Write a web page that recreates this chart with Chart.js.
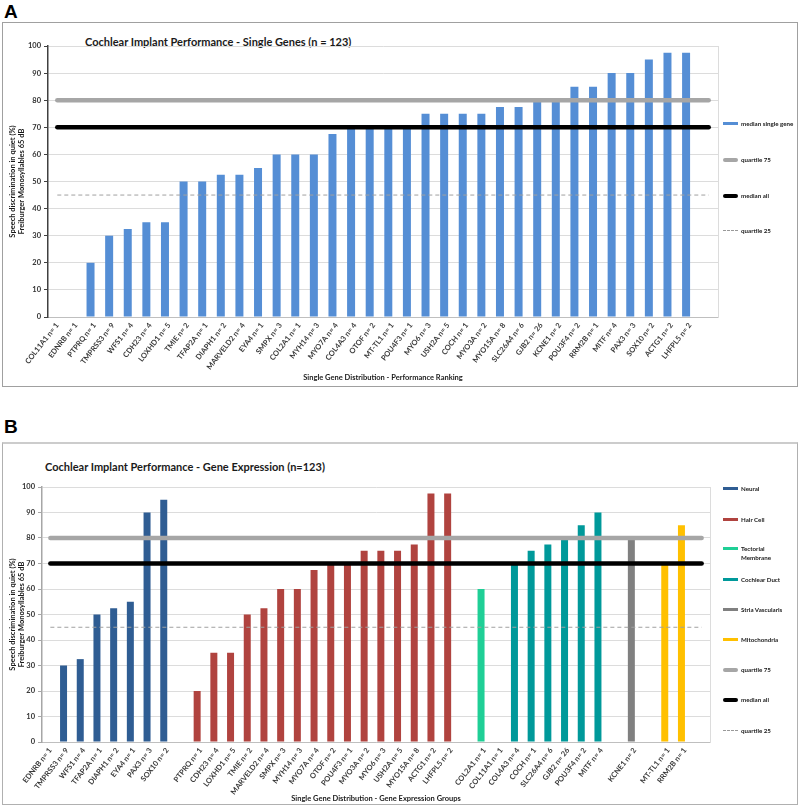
<!DOCTYPE html>
<html>
<head>
<meta charset="utf-8">
<script src="https://cdn.jsdelivr.net/npm/chart.js@4.4.1/dist/chart.umd.min.js"></script>
<style>
body { margin: 0; background: #fff; font-family: Lato, 'Liberation Sans', sans-serif; }
#page { position: relative; width: 800px; height: 807px; overflow: hidden; }
.letter { position: absolute; font: bold 19px 'Liberation Sans', Arial, sans-serif; color: #000; }
.box { position: absolute; box-sizing: border-box; }
canvas { position: absolute; left: 0; }
.title { position: absolute; font-weight: bold; font-size: 11px; color: #1a1a1a; white-space: nowrap; line-height: 13px; }
.leg { position: absolute; left: 723px; display: flex; align-items: flex-start; font-weight: bold; font-size: 6.2px; line-height: 9px; color: #1a1a1a; white-space: nowrap; }
.sw { width: 15px; height: 3px; margin: 3px 3px 0 0; flex: none; }
</style>
</head>
<body>
<div id="page">
  <div class="letter" style="left:4px; top:1px;">A</div>
  <div class="box" style="left:2px; top:22px; width:796px; height:365px; border:1px solid #a0a0a0;"></div>
  <div class="title" style="left:85px; top:35px;">Cochlear Implant Performance - Single Genes (n = 123)</div>
  <canvas id="chartA" width="800" height="400" style="top:0; width:800px; height:400px;"></canvas>

  <div class="letter" style="left:4px; top:416px;">B</div>
  <div class="box" style="left:2px; top:442px; width:796px; height:363px; border:1px solid #b0b0b0; border-top:2px solid #cccccc;"></div>
  <div class="title" style="left:45px; top:460px;">Cochlear Implant Performance - Gene Expression (n=123)</div>
  <canvas id="chartB" width="800" height="367" style="top:440px; width:800px; height:367px;"></canvas>
  <div id="legends"></div>
</div>
<script>
// Panel A - single genes ranked by median score (last category is the empty one Excel leaves)
const genesA = ['COL11A1 n= 1', 'EDNRB n= 1', 'PTPRQ n= 1', 'TMPRSS3 n= 9', 'WFS1 n= 4', 'CDH23 n= 4',
  'LOXHD1 n= 5', 'TMIE n= 2', 'TFAP2A n= 1', 'DIAPH1 n= 2', 'MARVELD2 n= 4', 'EYA4 n= 1', 'SMPX n= 3',
  'COL2A1 n= 1', 'MYH14 n= 3', 'MYO7A n= 4', 'COL4A3 n= 4', 'OTOF n= 2', 'MT-TL1 n= 1', 'POU4F3 n= 1',
  'MYO6 n= 3', 'USH2A n= 5', 'COCH n= 1', 'MYO3A n= 2', 'MYO15A n= 8', 'SLC26A4 n= 6', 'GJB2 n= 26',
  'KCNE1 n= 2', 'POU3F4 n= 2', 'RRM2B n= 1', 'MITF n= 4', 'PAX3 n= 3', 'SOX10 n= 2', 'ACTG1 n= 2',
  'LHFPL5 n= 2', ''];
const scoresA = [0, 0, 20, 30, 32.5, 35, 35, 50, 50, 52.5, 52.5, 55, 60, 60, 60, 67.5, 70, 70, 70, 70,
  75, 75, 75, 75, 77.5, 77.5, 80, 80, 85, 85, 90, 90, 95, 97.5, 97.5, null];

// Panel B - same genes grouped by where they are expressed
const genesB = ['EDNRB n= 1', 'TMPRSS3 n= 9', 'WFS1 n= 4', 'TFAP2A n= 1', 'DIAPH1 n= 2', 'EYA4 n= 1',
  'PAX3 n= 3', 'SOX10 n= 2', '',
  'PTPRQ n= 1', 'CDH23 n= 4', 'LOXHD1 n= 5', 'TMIE n= 2', 'MARVELD2 n= 4', 'SMPX n= 3', 'MYH14 n= 3',
  'MYO7A n= 4', 'OTOF n= 2', 'POU4F3 n= 1', 'MYO3A n= 2', 'MYO6 n= 3', 'USH2A n= 5', 'MYO15A n= 8',
  'ACTG1 n= 2', 'LHFPL5 n= 2', '',
  'COL2A1 n= 1', 'COL11A1 n= 1', 'COL4A3 n= 4', 'COCH n= 1', 'SLC26A4 n= 6', 'GJB2 n= 26',
  'POU3F4 n= 2', 'MITF n= 4', '',
  'KCNE1 n= 2', '',
  'MT-TL1 n= 1', 'RRM2B n= 1', ''];
const scoresB = [0, 30, 32.5, 50, 52.5, 55, 90, 95, null,
  20, 35, 35, 50, 52.5, 60, 60, 67.5, 70, 70, 75, 75, 75, 77.5, 97.5, 97.5, null,
  60, 0, 70, 75, 77.5, 80, 85, 90, null,
  80, null,
  70, 85, null];
const groupB = ['Neural', 'Neural', 'Neural', 'Neural', 'Neural', 'Neural', 'Neural', 'Neural', '',
  'Hair Cell', 'Hair Cell', 'Hair Cell', 'Hair Cell', 'Hair Cell', 'Hair Cell', 'Hair Cell', 'Hair Cell',
  'Hair Cell', 'Hair Cell', 'Hair Cell', 'Hair Cell', 'Hair Cell', 'Hair Cell', 'Hair Cell', 'Hair Cell', '',
  'Tectorial Membrane', 'Tectorial Membrane',
  'Cochlear Duct', 'Cochlear Duct', 'Cochlear Duct', 'Cochlear Duct', 'Cochlear Duct', 'Cochlear Duct', '',
  'Stria Vascularis', '',
  'Mitochondria', 'Mitochondria', ''];

// reference lines over all patients
const quartile75 = 80;
const medianAll = 70;
const quartile25 = 45;

const groupNames = ['Neural', 'Hair Cell', 'Tectorial Membrane', 'Cochlear Duct', 'Stria Vascularis', 'Mitochondria'];
const groupColors = ['#2f5d93', '#b0433f', '#1fcf96', '#00999a', '#808080', '#ffc000'];
const singleGeneColor = '#558ed5';

const FONT = 'Lato, "Liberation Sans", sans-serif';
const yTitle = ['Speech discrimination in quiet (%)', 'Freiburger Monosyllables 65 dB'];

// horizontal reference line drawn from first to last category centre
function refLine(label, value, n, color, width, dash) {
  return {
    type: 'line',
    label: label,
    xAxisID: 'xLine',
    data: [{ x: 0, y: value }, { x: n - 1, y: value }],
    borderColor: color,
    borderWidth: width,
    borderDash: dash || [],
    borderCapStyle: dash ? 'butt' : 'round',
    pointRadius: 0,
    order: 0
  };
}

function makeChart(id, labels, barData, barColors, opts) {
  const n = labels.length;
  return new Chart(document.getElementById(id).getContext('2d'), {
    type: 'bar',
    data: {
      labels: labels,
      datasets: [
        {
          label: 'bars',
          data: barData,
          backgroundColor: barColors,
          barThickness: opts.barWidth,
          inflateAmount: 0,
          order: 1
        },
        refLine('quartile 75', quartile75, n, '#a6a6a6', 4.5),
        refLine('median all', medianAll, n, '#000000', 4.5),
        refLine('quartile 25', quartile25, n, '#a0a0a0', 1, [4, 3])
      ]
    },
    options: {
      responsive: false,
      animation: false,
      layout: { padding: opts.padding },
      plugins: { legend: { display: false }, tooltip: { enabled: false } },
      scales: {
        x: {
          ticks: {
            autoSkip: false,
            minRotation: 52,
            maxRotation: 52,
            color: '#3a3a3a',
            padding: 1,
            font: { family: FONT, size: 7.5, weight: 'bold' }
          },
          grid: { display: false, tickLength: 3 },
          border: { color: '#bfbfbf' },
          title: {
            display: true,
            text: opts.xTitle,
            color: '#1a1a1a',
            padding: { top: 4, bottom: 0 },
            font: { family: FONT, size: 7.5, weight: 'bold' }
          },
          afterFit: function(s) { s.height = opts.xHeight; }
        },
        xLine: {
          type: 'linear',
          display: false,
          offset: false,
          min: -0.5,
          max: n - 0.5
        },
        y: {
          min: 0,
          max: 100,
          ticks: {
            stepSize: 10,
            color: '#333333',
            padding: 3,
            font: { family: FONT, size: 7.5, weight: 'bold' }
          },
          grid: { color: '#dcdcdc', tickLength: 4, tickColor: opts.axisColor },
          border: { color: opts.axisColor, width: 1.5 },
          title: {
            display: true,
            text: yTitle,
            color: '#1a1a1a',
            padding: { top: 8, bottom: 0 },
            font: { family: FONT, size: 7.5, weight: 'bold' }
          },
          afterFit: function(s) { s.width = opts.yWidth; }
        },
        yRight: {
          position: 'right',
          min: 0,
          max: 100,
          ticks: { display: false },
          grid: { display: false, drawTicks: false },
          border: { color: '#dcdcdc' },
          afterFit: function(s) { s.width = 0; }
        }
      }
    }
  });
}

const chartA = makeChart('chartA', genesA, scoresA, singleGeneColor, {
  barWidth: 8,
  padding: { left: 0, top: 46, right: 82, bottom: 18 },
  xHeight: 65,
  yWidth: 48,
  axisColor: '#404040',
  xTitle: 'Single Gene Distribution - Performance Ranking'
});

const colorsB = groupB.map(g => groupColors[groupNames.indexOf(g)] || 'rgba(0,0,0,0)');
const chartB = makeChart('chartB', genesB, scoresB, colorsB, {
  barWidth: 7,
  padding: { left: 0, top: 47, right: 90, bottom: 4 },
  xHeight: 61,
  yWidth: 42,
  axisColor: '#a6a6a6',
  xTitle: 'Single Gene Distribution - Gene Expression Groups'
});

// legends at the right of each panel
const lineKeys = [
  { text: 'quartile 75', css: 'background:#a6a6a6; height:4px; border-radius:2px;' },
  { text: 'median all', css: 'background:#000; height:4px; border-radius:2px;' },
  { text: 'quartile 25', css: 'height:0; border-top:1px dashed #999; margin-top:4px;' }
];
function addLegend(y, text, css) {
  const el = document.createElement('div');
  el.className = 'leg';
  el.style.top = (y - 5) + 'px';
  el.innerHTML = '<div class="sw" style="' + css + '"></div><div>' + text + '</div>';
  document.getElementById('legends').appendChild(el);
}
addLegend(124, 'median single gene', 'background:' + singleGeneColor + ';');
[160, 196, 231].forEach((y, i) => addLegend(y, lineKeys[i].text, lineKeys[i].css));

const legendYB = [489, 520, 549, 580, 610, 640];
groupNames.forEach((g, i) => {
  addLegend(legendYB[i], g.replace('Tectorial ', 'Tectorial<br>'), 'background:' + groupColors[i] + ';');
});
[670, 700, 731].forEach((y, i) => addLegend(y, lineKeys[i].text, lineKeys[i].css));
</script>
</body>
</html>
